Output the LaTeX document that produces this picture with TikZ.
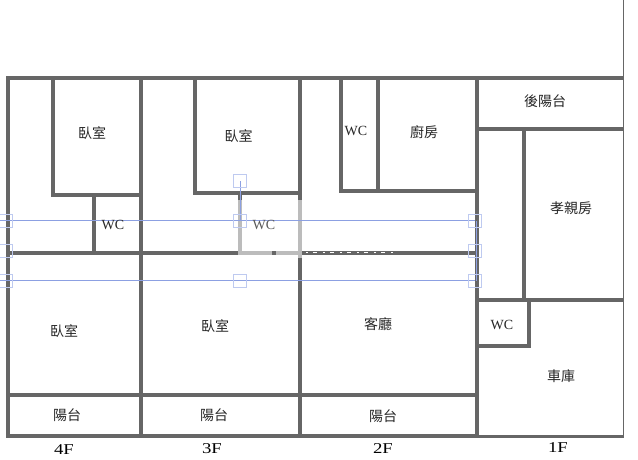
\documentclass[tikz,border=0pt]{standalone}
\usepackage{fontspec}
\setmainfont{Liberation Serif}
\newfontfamily\cjk{Noto Sans CJK TC}
\usepackage{tikz}
\definecolor{wallgray}{RGB}{102,102,102}
\definecolor{fadegray}{RGB}{188,188,188}
\definecolor{guideblue}{RGB}{140,160,226}
\definecolor{handleblue}{RGB}{190,202,240}
\tikzset{
  wall/.style={draw=wallgray,line width=4pt},
  fadewall/.style={draw=fadegray,line width=4pt},
  guide/.style={draw=guideblue,line width=1pt},
  handle/.style={draw=handleblue,line width=1pt},
  room/.style={font=\cjk\fontsize{14}{14}\selectfont,text=black!85},
  wc/.style={font=\fontsize{14}{14}\selectfont,text=black!85},
  floorname/.style={font=\fontsize{15}{15}\selectfont,text=black,xscale=1.25}
}
\begin{document}
\begin{tikzpicture}[x=1pt,y=-1pt]
       \useasboundingbox (0,0) rectangle (638,460);
       \fill[white] (0,0) rectangle (638,460);
       % outer walls
       \draw[wallgray,line width=1.5pt] (623.5,0) -- (623.5,436);
       \draw[wall] (623,78) -- (8,78) -- (8,436) -- (477,436);
       \draw[wallgray,line width=3pt] (477,436) -- (624,436);
       \draw[wall] (141,78) -- (141,436);
       \draw[wall] (300,78) -- (300,200);
       \draw[wall] (300,258) -- (300,436);
       \draw[wall] (477,78) -- (477,436);
       \draw[wall] (8,252.5) -- (240,252.5);
       \draw[wall] (300,252.5) -- (477,252.5);
       \draw[wall] (8,395) -- (477,395);
       % 4F
       \draw[wall] (53,78) -- (53,194.5) -- (141,194.5);
       \draw[wall] (93.5,194.5) -- (93.5,252.5);
       % 3F
       \draw[wall] (195,78) -- (195,192.5) -- (300,192.5);
       \draw[wall] (240,192.5) -- (240,200);
       \draw[fadewall] (240,200) -- (240,252.5) -- (300,252.5);
       \draw[fadewall] (300,200) -- (300,258);
       \draw[wall] (272,252.5) -- (276,252.5);
       % 2F
       \draw[wall] (340.5,78) -- (340.5,191) -- (477,191);
       \draw[wall] (378,78) -- (378,191);
       \draw[white,line width=1pt,dash pattern=on 2pt off 5pt on 4pt off 6pt] (306,252.5) -- (396,252.5);
       % 1F
       \draw[wall] (477,129.5) -- (623,129.5);
       \draw[wall] (523.5,129.5) -- (523.5,300);
       \draw[wall] (477,300) -- (623,300);
       \draw[wall] (529,300) -- (529,346) -- (477,346);
       % selection frame
       \draw[guide] (0,220.5) -- (475,220.5);
       \draw[guide] (0,280.5) -- (475,280.5);
       \draw[guide] (240,181) -- (240,220.5);
       \draw[guide] (476,220.5) -- (476,280.5);
       \foreach \px in {6,475}
         \foreach \py in {220.5,250.5,280.5}
           \draw[handle] (\px-6.5,\py-6.5) rectangle (\px+6.5,\py+6.5);
       \foreach \py in {181,220.5,280.5}
         \draw[handle] (233.5,\py-6.5) rectangle (246.5,\py+6.5);
       % labels
       \node[room] (bedroomA) at (92,133) {臥室};
       \node[room] (bedroomB) at (238.5,136) {臥室};
       \node[room] (bedroomC) at (64,331) {臥室};
       \node[room] (bedroomD) at (215,326) {臥室};
       \node[room] (kitchen) at (424,132) {廚房};
       \node[room] (backbalcony) at (545,101) {後陽台};
       \node[room] (parentroom) at (571,208) {孝親房};
       \node[room] (livingroom) at (378,324) {客廳};
       \node[room] (garage) at (561,376) {車庫};
       \node[room] (balconyA) at (67,415) {陽台};
       \node[room] (balconyB) at (214,415) {陽台};
       \node[room] (balconyC) at (383,416) {陽台};
       \node[wc] (wcA) at (356,131) {WC};
       \node[wc] (wcB) at (113,225) {WC};
       \node[wc,text=black!65] (wcC) at (264,225) {WC};
       \node[wc] (wcD) at (502,325) {WC};
       \node[floorname] (floorfour) at (64,450) {4F};
       \node[floorname] (floorthree) at (212,449) {3F};
       \node[floorname] (floortwo) at (383,449) {2F};
       \node[floorname] (floorone) at (558,448) {1F};
      \end{tikzpicture}
\end{document}
